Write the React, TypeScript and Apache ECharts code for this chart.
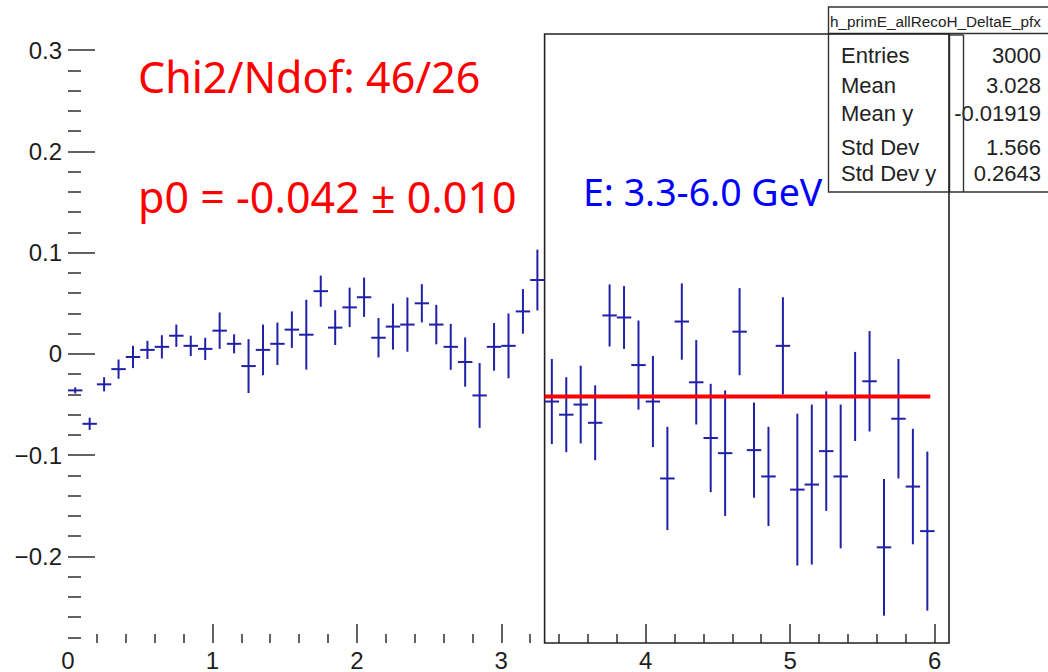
import React, { useEffect, useRef } from 'react';
import * as echarts from 'echarts';

// ---- data ----
const binCenters = [
  0.05, 0.15, 0.25, 0.35, 0.45, 0.55, 0.65, 0.75, 0.85, 0.95,
  1.05, 1.15, 1.25, 1.35, 1.45, 1.55, 1.65, 1.75, 1.85, 1.95,
  2.05, 2.15, 2.25, 2.35, 2.45, 2.55, 2.65, 2.75, 2.85, 2.95,
  3.05, 3.15, 3.25, 3.35, 3.45, 3.55, 3.65, 3.75, 3.85, 3.95,
  4.05, 4.15, 4.25, 4.35, 4.45, 4.55, 4.65, 4.75, 4.85, 4.95,
  5.05, 5.15, 5.25, 5.35, 5.45, 5.55, 5.65, 5.75, 5.85, 5.95,
];
const profileMeans = [
  -0.036, -0.069, -0.030, -0.015, -0.003, 0.004, 0.007, 0.018, 0.008, 0.005,
  0.023, 0.010, -0.012, 0.004, 0.010, 0.024, 0.019, 0.062, 0.026, 0.046,
  0.056, 0.016, 0.027, 0.029, 0.050, 0.029, 0.007, -0.008, -0.041, 0.007,
  0.008, 0.042, 0.073, -0.047, -0.060, -0.050, -0.068, 0.038, 0.036, -0.011,
  -0.047, -0.123, 0.032, -0.028, -0.083, -0.098, 0.022, -0.095, -0.121, 0.008,
  -0.134, -0.129, -0.096, -0.121, -0.042, -0.027, -0.191, -0.064, -0.131, -0.175,
];
const profileErrors = [
  0.003, 0.006, 0.007, 0.0095, 0.011, 0.009, 0.0115, 0.011, 0.010, 0.011,
  0.018, 0.0094, 0.0266, 0.025, 0.021, 0.018, 0.0345, 0.0154, 0.0172, 0.0195,
  0.0194, 0.0195, 0.0227, 0.0268, 0.0189, 0.0195, 0.0227, 0.0243, 0.032, 0.0235,
  0.032, 0.022, 0.030, 0.042, 0.037, 0.0384, 0.037, 0.0307, 0.031, 0.044,
  0.045, 0.051, 0.0377, 0.0417, 0.0535, 0.062, 0.043, 0.047, 0.049, 0.048,
  0.075, 0.079, 0.059, 0.071, 0.044, 0.0496, 0.0675, 0.059, 0.057, 0.0785,
];
const binHalfWidth = 0.05;
const fitRange = [3.3, 5.97];
const fitP0 = -0.042;
const frameRange = [3.3, 6.1];

const xRange = [0, 6.1];
const yRange = [-0.2855, 0.316];
const xMajorTicks = [1, 2, 3, 4, 5, 6];
const xLabelValues = [0, 1, 2, 3, 4, 5, 6];
const xTickLabels = ['0', '1', '2', '3', '4', '5', '6'];
const xMinorTicks = [
  0.2, 0.4, 0.6, 0.8, 1.2, 1.4, 1.6, 1.8, 2.2, 2.4, 2.6, 2.8,
  3.2, 3.4, 3.6, 3.8, 4.2, 4.4, 4.6, 4.8, 5.2, 5.4, 5.6, 5.8,
];
const yMajorTicks = [-0.2, -0.1, 0, 0.1, 0.2, 0.3];
const yTickLabels = ['\u22120.2', '\u22120.1', '0', '0.1', '0.2', '0.3'];
const yMinorTicks = [
  -0.28, -0.26, -0.24, -0.22, -0.18, -0.16, -0.14, -0.12, -0.08, -0.06, -0.04, -0.02,
  0.02, 0.04, 0.06, 0.08, 0.12, 0.14, 0.16, 0.18, 0.22, 0.24, 0.26, 0.28,
];

const statsTitle = 'h_primE_allRecoH_DeltaE_pfx';
const statsNames = ['Entries', 'Mean', 'Mean y', 'Std Dev', 'Std Dev y'];
const statsValues = ['3000', '3.028', '-0.01919', '1.566', '0.2643'];

const chi2Text = 'Chi2/Ndof: 46/26';
const p0Text = 'p0 = -0.042 \u00b1 0.010';
const rangeText = 'E: 3.3-6.0 GeV';

const tickColor = '#3a3a3a';
const labelColor = '#1e1e1e';
const markerColor = '#2020a8';

function labelFor(values: number[], labels: string[]) {
  return (v: number) => {
    const i = values.findIndex((t) => Math.abs(t - v) < 1e-9);
    return i >= 0 ? labels[i] : '';
  };
}

export default function App() {
  const ref = useRef<HTMLDivElement>(null);

  useEffect(() => {
    if (!ref.current) return;
    const chart = echarts.init(ref.current, undefined, { renderer: 'svg' });

    const axisBase = {
      type: 'value' as const,
      axisLine: { show: false, onZero: false },
      splitLine: { show: false },
    };

    const statsRows = [55, 85, 113.5, 147, 173.5];

    const option: any = {
      animation: false,
      backgroundColor: '#ffffff',
      grid: { left: 68, right: 99, top: 34, bottom: 28, containLabel: false },
      xAxis: [
        {
          ...axisBase,
          min: xRange[0],
          max: xRange[1],
          position: 'bottom',
          axisTick: {
            show: true,
            inside: true,
            length: 19,
            customValues: xMajorTicks,
            lineStyle: { color: tickColor, width: 1.6 },
          },
          axisLabel: {
            show: true,
            customValues: xLabelValues,
            margin: 5,
            fontSize: 24,
            fontFamily: 'Liberation Sans',
            color: labelColor,
            formatter: labelFor(xLabelValues, xTickLabels),
          },
        },
        {
          ...axisBase,
          min: xRange[0],
          max: xRange[1],
          position: 'bottom',
          axisTick: {
            show: true,
            inside: true,
            length: 9,
            customValues: xMinorTicks,
            lineStyle: { color: tickColor, width: 1.6 },
          },
          axisLabel: { show: false },
        },
      ],
      yAxis: [
        {
          ...axisBase,
          min: yRange[0],
          max: yRange[1],
          position: 'left',
          axisTick: {
            show: true,
            inside: true,
            length: 27,
            customValues: yMajorTicks,
            lineStyle: { color: tickColor, width: 1.6 },
          },
          axisLabel: {
            show: true,
            customValues: yMajorTicks,
            margin: 6,
            fontSize: 24,
            fontFamily: 'Liberation Sans',
            color: labelColor,
            formatter: labelFor(yMajorTicks, yTickLabels),
          },
        },
        {
          ...axisBase,
          min: yRange[0],
          max: yRange[1],
          position: 'left',
          axisTick: {
            show: true,
            inside: true,
            length: 13,
            customValues: yMinorTicks,
            lineStyle: { color: tickColor, width: 1.6 },
          },
          axisLabel: { show: false },
        },
      ],
      series: [
        {
          type: 'custom',
          xAxisIndex: 0,
          yAxisIndex: 0,
          silent: true,
          z: 1,
          data: [[frameRange[0], frameRange[1]]],
          encode: { x: [0, 1] },
          renderItem: (_p: any, api: any) => {
            const a = api.coord([api.value(0), yRange[1]]);
            const b = api.coord([api.value(1), yRange[0]]);
            return {
              type: 'rect',
              shape: { x: a[0], y: a[1], width: b[0] - a[0], height: b[1] - a[1] },
              style: { fill: 'none', stroke: '#222', lineWidth: 1.6 },
            };
          },
        },
        {
          type: 'custom',
          xAxisIndex: 0,
          yAxisIndex: 0,
          silent: true,
          z: 2,
          data: binCenters.map((x, i) => [x, profileMeans[i], profileErrors[i]]),
          encode: { x: 0, y: 1 },
          renderItem: (_p: any, api: any) => {
            const x = api.value(0);
            const y = api.value(1);
            const e = api.value(2);
            const l = api.coord([x - binHalfWidth, y]);
            const r = api.coord([x + binHalfWidth, y]);
            const t = api.coord([x, y + e]);
            const b = api.coord([x, y - e]);
            const st = { stroke: markerColor, lineWidth: 2 };
            return {
              type: 'group',
              children: [
                { type: 'line', shape: { x1: l[0], y1: l[1], x2: r[0], y2: r[1] }, style: st },
                { type: 'line', shape: { x1: t[0], y1: t[1], x2: b[0], y2: b[1] }, style: st },
              ],
            };
          },
        },
        {
          type: 'line',
          xAxisIndex: 0,
          yAxisIndex: 0,
          z: 3,
          silent: true,
          symbol: 'none',
          data: [
            [fitRange[0], fitP0],
            [fitRange[1], fitP0],
          ],
          lineStyle: { color: '#ff0000', width: 4 },
        },
      ],
      graphic: [
        {
          type: 'text',
          left: 138,
          top: 80 - 25,
          z: 20,
          style: {
            text: chi2Text,
            fontSize: 43,
            fontFamily: 'Noto Sans',
            fill: '#ff0000',
          },
        },
        {
          type: 'text',
          left: 138,
          top: 200 - 25,
          z: 20,
          style: {
            text: p0Text,
            fontSize: 43,
            fontFamily: 'Noto Sans',
            fill: '#ff0000',
          },
        },
        {
          type: 'text',
          left: 583,
          top: 194 - 22,
          z: 20,
          style: {
            text: rangeText,
            fontSize: 37.5,
            fontFamily: 'Noto Sans',
            fill: '#0000ff',
          },
        },
        {
          type: 'group',
          z: 30,
          children: [
            {
              type: 'rect',
              shape: { x: 828.5, y: 7, width: 240, height: 185 },
              style: { fill: '#ffffff', stroke: '#333', lineWidth: 1.4 },
            },
            {
              type: 'line',
              shape: { x1: 828.5, y1: 33.5, x2: 1048, y2: 33.5 },
              style: { stroke: '#333', lineWidth: 1.4 },
            },
            {
              type: 'text',
              x: 830,
              y: 21,
              style: {
                text: statsTitle,
                fontSize: 15.3,
                fontFamily: 'Liberation Sans',
                fill: '#222',
                verticalAlign: 'middle',
                align: 'left',
              },
            },
            ...statsNames.map((n, i) => ({
              type: 'text',
              x: 841,
              y: statsRows[i],
              style: {
                text: n,
                fontSize: 22,
                fontFamily: 'Liberation Sans',
                fill: '#222',
                verticalAlign: 'middle',
                align: 'left',
              },
            })),
            ...statsValues.map((v, i) => ({
              type: 'text',
              x: 1041,
              y: statsRows[i],
              style: {
                text: v,
                fontSize: 22,
                fontFamily: 'Liberation Sans',
                fill: '#222',
                verticalAlign: 'middle',
                align: 'right',
              },
            })),
            {
              type: 'line',
              shape: { x1: 949.5, y1: 34, x2: 949.5, y2: 192 },
              style: { stroke: '#333', lineWidth: 1.4 },
            },
            {
              type: 'line',
              shape: { x1: 963.5, y1: 35, x2: 963.5, y2: 192 },
              style: { stroke: '#333', lineWidth: 1.4 },
            },
            {
              type: 'line',
              shape: { x1: 949.5, y1: 35, x2: 963.5, y2: 35 },
              style: { stroke: '#333', lineWidth: 1.4 },
            },
          ],
        },
      ],
    };

    chart.setOption(option);
    return () => chart.dispose();
  }, []);

  return (
    <div
      ref={ref}
      style={{ position: 'absolute', left: 0, top: 0, width: 1048, height: 672, background: '#fff' }}
    />
  );
}
